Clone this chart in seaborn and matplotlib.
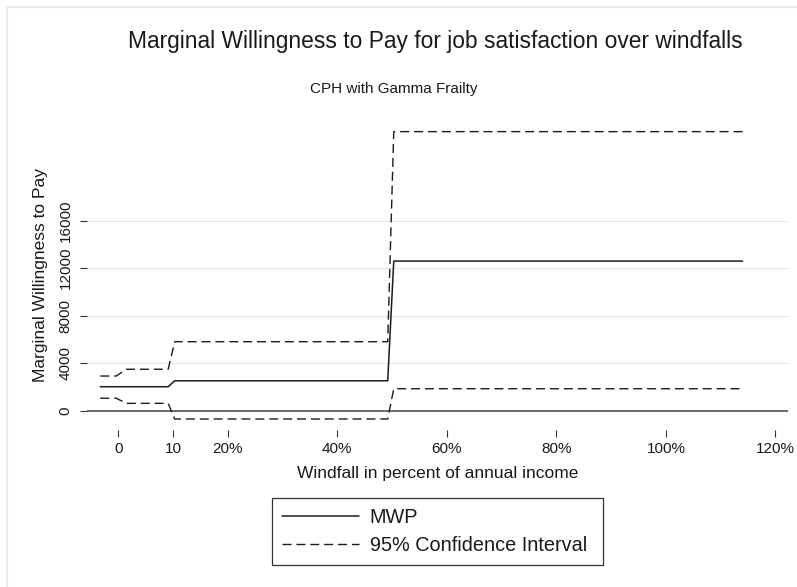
import numpy as np
import pandas as pd
import matplotlib
matplotlib.use("Agg")
import matplotlib.pyplot as plt
from matplotlib.lines import Line2D
import seaborn as sns

# Windfall (% of annual income) at which the estimates are evaluated
windfall = [-3.3, -0.4, 1.5, 9.1, 10.3, 49.2, 50.3, 114.0]
# Marginal willingness to pay and its 95% confidence bounds
mwp = [2020, 2020, 2020, 2020, 2520, 2520, 12600, 12600]
ci_upper = [2920, 2920, 3490, 3490, 5810, 5810, 23500, 23500]
ci_lower = [1050, 1050, 620, 620, -700, -700, 1850, 1850]

x_ticks = [0, 10, 20, 40, 60, 80, 100, 120]
x_tick_labels = ["0", "10", "20%", "40%", "60%", "80%", "100%", "120%"]
y_ticks = [0, 4000, 8000, 12000, 16000]
y_tick_labels = ["0", "4000", "8000", "12000", "16000"]

sns.set_theme(style="white")
plt.rcParams["font.family"] = ["Liberation Sans", "DejaVu Sans"]

W, H = 797, 587
fig = plt.figure(figsize=(W / 100, H / 100), dpi=100)
fig.patch.set_facecolor("white")


def fx(px):
    return px / W


def fy(py):
    return 1 - py / H


ax = fig.add_axes([fx(87), fy(430), fx(788) - fx(87), fy(120) - fy(430)])
ax.set_facecolor("white")
for s in ax.spines.values():
    s.set_visible(False)

df = pd.DataFrame({"windfall": windfall, "mwp": mwp,
                   "upper": ci_upper, "lower": ci_lower})

ink = "#1c1c1c"
# horizontal grid lines
for v in y_ticks[1:]:
    ax.axhline(v, color="#e6e6e6", lw=0.8, zorder=0)
ax.axhline(0, color="#404040", lw=1.1, zorder=1)

sns.lineplot(data=df, x="windfall", y="mwp", ax=ax, color=ink, lw=1.1,
             estimator=None, sort=False, label="MWP", zorder=3)
sns.lineplot(data=df, x="windfall", y="upper", ax=ax, color=ink, lw=1.0,
             estimator=None, sort=False, zorder=3,
             label="95% Confidence Interval")
sns.lineplot(data=df, x="windfall", y="lower", ax=ax, color=ink, lw=1.0,
             estimator=None, sort=False, zorder=3)
for ln in ax.get_lines()[-2:]:
    ln.set_dashes((6.5, 3.5))

ax.set_xlim(-5.72, 122.3)
ax.set_ylim(-1625, 24480)

ax.set_xticks(x_ticks)
ax.set_xticklabels(x_tick_labels)
ax.set_yticks(y_ticks)
ax.set_yticklabels(y_tick_labels)
ax.tick_params(axis="both", which="major", direction="out", length=5.3,
               width=0.8, color="#333333", labelsize=11, labelcolor="#1a1a1a",
               bottom=True, left=True)
ax.tick_params(axis="x", pad=3.5)
ax.tick_params(axis="y", pad=5.0, labelrotation=90)
for lab in ax.get_yticklabels():
    lab.set_va("center")

ax.set_xlabel("Windfall in percent of annual income", fontsize=12.5,
              color="#1a1a1a", labelpad=7)
ax.set_ylabel("Marginal Willingness to Pay", fontsize=12.5,
              color="#1a1a1a", labelpad=8)

ax.get_legend().remove()
handles = [Line2D([], [], color=ink, lw=1.1),
           Line2D([], [], color=ink, lw=1.0, dashes=(6.5, 3.5))]
leg = fig.legend(handles, ["MWP", "95% Confidence Interval"],
                 loc="upper left",
                 bbox_to_anchor=(fx(272), fy(563), fx(603) - fx(272), fy(498) - fy(563)),
                 mode="expand", borderaxespad=0, borderpad=0.5,
                 handlelength=3.87, handletextpad=0.55, labelspacing=0.45,
                 fontsize=14.3, frameon=True, fancybox=False, shadow=False,
                 framealpha=1)
leg.get_frame().set_edgecolor("#333333")
leg.get_frame().set_linewidth(0.9)
for t in leg.get_texts():
    t.set_color("#1a1a1a")

fig.text(fx(435), fy(48), "Marginal Willingness to Pay for job satisfaction over windfalls",
         ha="center", va="baseline", fontsize=16.4, color="#1a1a1a")
fig.text(fx(393.5), fy(92.5), "CPH with Gamma Frailty",
         ha="center", va="baseline", fontsize=11, color="#1a1a1a")

# thin outer frame along the top and left edges
fig.add_artist(Line2D([fx(6.5), 1.0], [fy(6.5), fy(6.5)], color="#ebebeb", lw=1.6,
                      transform=fig.transFigure))
fig.add_artist(Line2D([fx(6.5), fx(6.5)], [fy(6.5), 0.0], color="#ebebeb", lw=1.6,
                      transform=fig.transFigure))

fig.savefig("out.png", dpi=100, facecolor="white")
